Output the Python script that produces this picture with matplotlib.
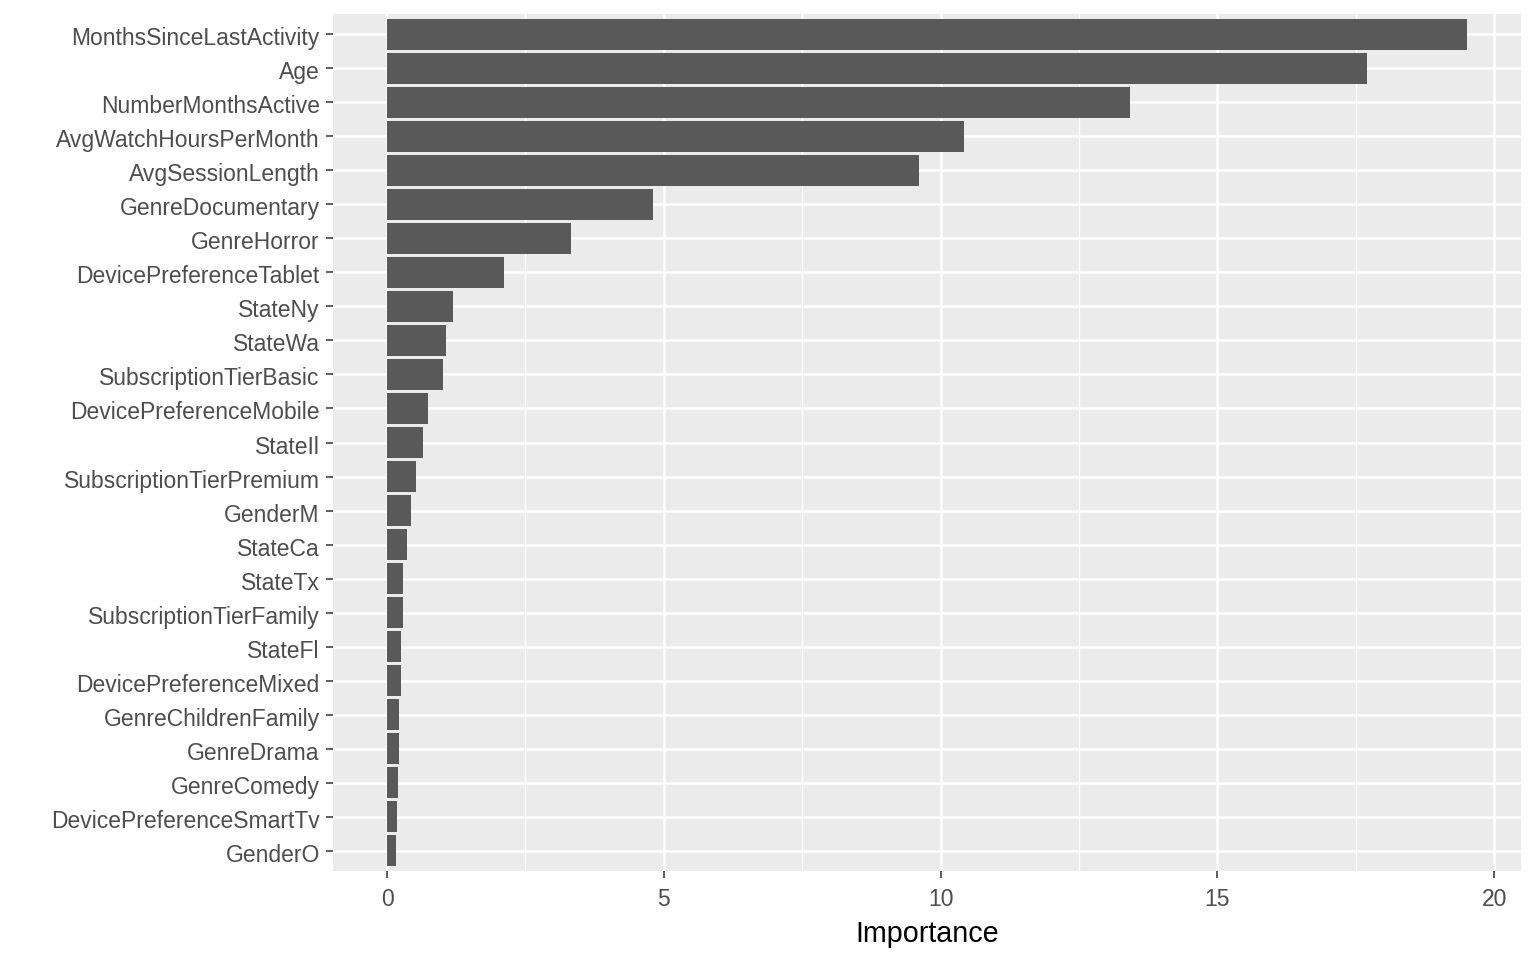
import matplotlib
matplotlib.use("Agg")
import matplotlib.pyplot as plt
import matplotlib.transforms as mtransforms
from matplotlib.ticker import MultipleLocator

plt.rcParams['font.family'] = ['Liberation Sans', 'DejaVu Sans']

# feature importances, top to bottom as shown
features = [
    'MonthsSinceLastActivity', 'Age', 'NumberMonthsActive', 'AvgWatchHoursPerMonth',
    'AvgSessionLength', 'GenreDocumentary', 'GenreHorror', 'DevicePreferenceTablet',
    'StateNy', 'StateWa', 'SubscriptionTierBasic', 'DevicePreferenceMobile',
    'StateIl', 'SubscriptionTierPremium', 'GenderM', 'StateCa', 'StateTx',
    'SubscriptionTierFamily', 'StateFl', 'DevicePreferenceMixed',
    'GenreChildrenFamily', 'GenreDrama', 'GenreComedy', 'DevicePreferenceSmartTv',
    'GenderO',
]
importance = [
    19.51, 17.70, 13.43, 10.43, 9.61, 4.81, 3.32, 2.11,
    1.19, 1.07, 1.01, 0.74, 0.65, 0.52, 0.43, 0.36, 0.29,
    0.29, 0.25, 0.25, 0.22, 0.22, 0.20, 0.18, 0.16,
]

n = len(features)
ypos = list(range(n - 1, -1, -1))

fig = plt.figure(figsize=(15.36, 9.6), dpi=100)
ax = fig.add_axes([333 / 1536, 1 - 871 / 960, (1521 - 333) / 1536, (871 - 14) / 960])
ax.set_facecolor('#EBEBEB')

ax.barh(ypos, importance, height=0.9, color='#595959', zorder=3)

xmax = max(importance)
ax.set_xlim(-0.05 * xmax, xmax * 1.05)
ax.set_ylim(-0.6, n - 1 + 0.6)

ax.xaxis.set_major_locator(MultipleLocator(5))
ax.xaxis.set_minor_locator(MultipleLocator(2.5))
ax.set_yticks(ypos)
ax.set_yticklabels(features)

ax.grid(which='major', axis='both', color='white', linewidth=1.8, zorder=1)
ax.grid(which='minor', axis='x', color='white', linewidth=0.9, zorder=1)
ax.set_axisbelow(True)

for s in ax.spines.values():
    s.set_visible(False)

ax.tick_params(axis='both', which='major', length=5, width=1.1, color='#333333',
               labelsize=16.5, labelcolor='#4D4D4D', pad=4.5)
ax.tick_params(axis='x', which='major', pad=7)
ax.tick_params(axis='x', which='minor', length=0)

# nudge y labels down slightly like ggplot does
shift = mtransforms.ScaledTranslation(0, -2 / 100, fig.dpi_scale_trans)
for lab in ax.get_yticklabels():
    lab.set_transform(lab.get_transform() + shift)

ax.set_xlabel('Importance', fontsize=20.7, color='black', labelpad=7)

fig.savefig('out.png', dpi=100)
